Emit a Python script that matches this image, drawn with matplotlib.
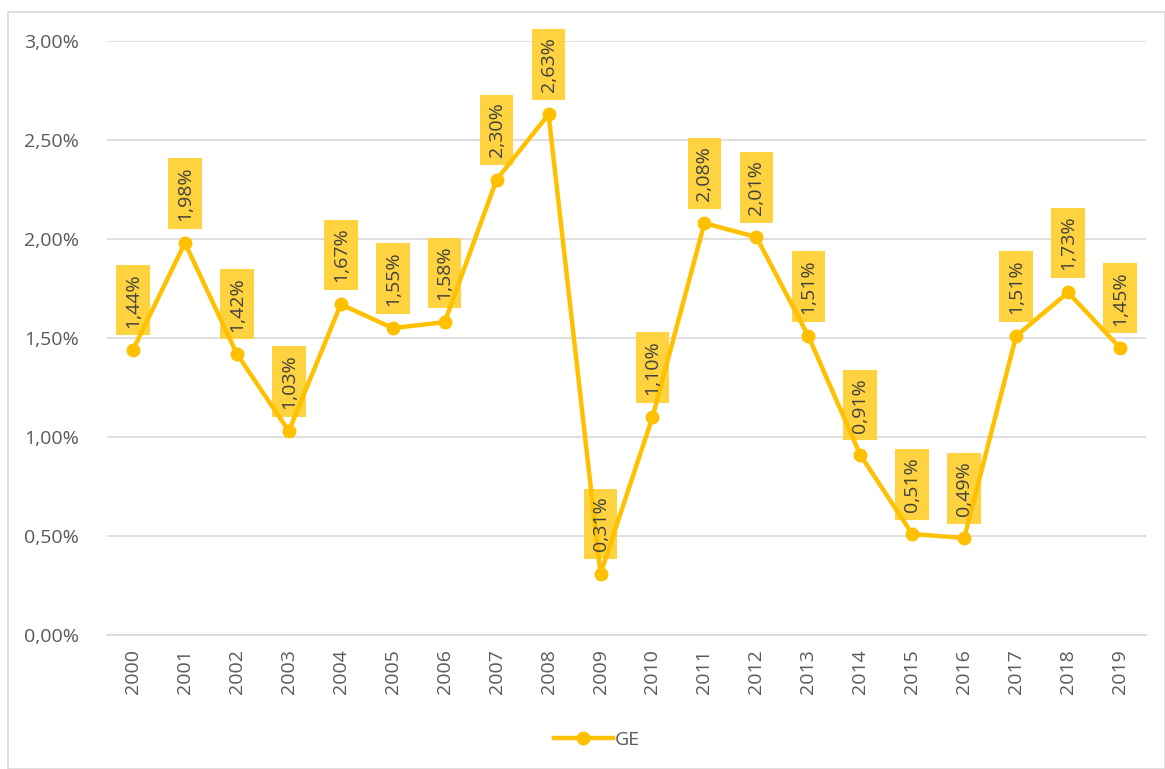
import matplotlib.pyplot as plt
import matplotlib.ticker as mticker
from matplotlib.patches import Rectangle

years = [str(y) for y in range(2000, 2020)]
ge = [1.44, 1.98, 1.42, 1.03, 1.67, 1.55, 1.58, 2.30, 2.63, 0.31,
      1.10, 2.08, 2.01, 1.51, 0.91, 0.51, 0.49, 1.51, 1.73, 1.45]

line_col = '#FFC000'
box_col = '#FFD23F'
grey = '#595959'

plt.rcParams['font.family'] = ['Open Sans', 'DejaVu Sans']

fig = plt.figure(figsize=(11.65, 7.69), dpi=100)
ax = fig.add_axes([107 / 1165, 1 - 635 / 769, 1039 / 1165, 594 / 769])

# light border around the chart area
fig.patches.append(Rectangle((8 / 1165, 0), 1 - 8 / 1165, 1 - 12 / 769,
                             transform=fig.transFigure, fill=False,
                             edgecolor='#D9D9D9', lw=1.2))

x = list(range(len(years)))
ax.plot(x, ge, color=line_col, lw=3.2, marker='o', ms=9, zorder=3, label='GE')

def fmt(v):
    return ('%.2f' % v).replace('.', ',') + '%'

for xi, v in zip(x, ge):
    # box under the line, text above it
    ax.annotate(fmt(v), (xi, v), xytext=(0, 16), textcoords='offset points',
                rotation=90, ha='center', va='bottom', fontsize=14,
                color=box_col, zorder=2,
                bbox=dict(boxstyle='square,pad=0.4', fc=box_col, ec='none'))
    ax.annotate(fmt(v), (xi, v), xytext=(0, 16), textcoords='offset points',
                rotation=90, ha='center', va='bottom', fontsize=14,
                color='#404040', zorder=4)

ax.set_xlim(-0.5, len(years) - 0.5)
ax.set_ylim(0, 3.0)
ax.set_yticks([0, 0.5, 1, 1.5, 2, 2.5, 3])
ax.yaxis.set_major_formatter(mticker.FuncFormatter(lambda v, p: fmt(v)))
ax.set_xticks(x)
ax.set_xticklabels(years, rotation=90)
ax.tick_params(axis='both', length=0, labelsize=14, labelcolor=grey)
ax.tick_params(axis='y', pad=20)
ax.tick_params(axis='x', pad=10)
ax.grid(axis='y', color='#D9D9D9', lw=1.2)
ax.set_axisbelow(True)
for s in ['top', 'right', 'left']:
    ax.spines[s].set_visible(False)
ax.spines['bottom'].set_color('#D9D9D9')
ax.spines['bottom'].set_linewidth(1.2)

leg = fig.legend(loc='center', bbox_to_anchor=(597 / 1165, 1 - 740 / 769),
                 frameon=False, fontsize=14, handlelength=3, handletextpad=0.1)
for t in leg.get_texts():
    t.set_color(grey)

fig.savefig('out.png', dpi=100)
